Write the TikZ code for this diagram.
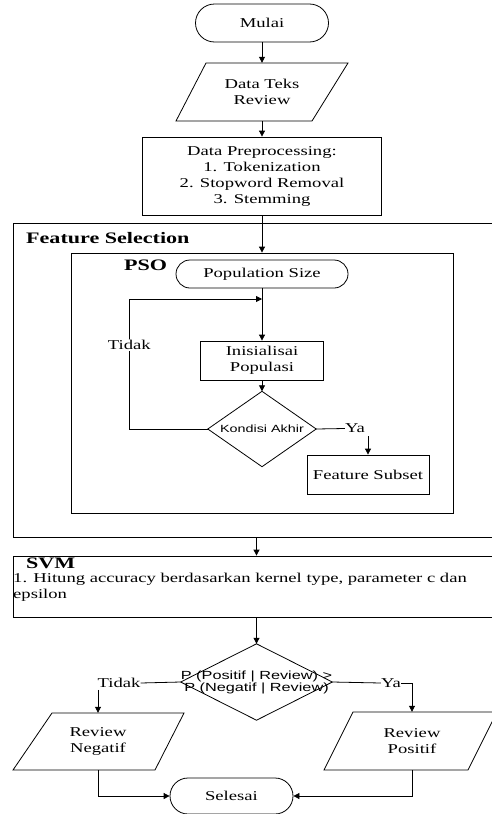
\documentclass[tikz,border=0pt]{standalone}
\usepackage{fontspec}
\setmainfont{Liberation Serif}[FakeStretch=1.38]
\newfontfamily\sansf{Liberation Sans}[FakeStretch=1.38]
\usetikzlibrary{arrows.meta}
\begin{document}
\begin{tikzpicture}[x=1pt,y=-1pt,
  every node/.style={font=\fontsize{13.5}{16}\selectfont, inner sep=0pt},
  ln/.style={draw=black, line width=0.8pt},
  arr/.style={ln, -{Triangle[length=6pt,width=6pt]}},
  term/.style={draw=black, line width=0.8pt},
  procbox/.style={draw=black, line width=0.8pt},
  boldlabel/.style={anchor=base west, font=\bfseries\fontsize{16}{19}\selectfont}
]
\useasboundingbox (0,0) rectangle (492,814);
\clip (0,0) rectangle (492,814);

% start
\node[term, minimum width=133pt, minimum height=38pt, rounded corners=19pt] (mulai) at (262,23) {Mulai};
% data teks
\node[minimum width=172pt, minimum height=58pt, align=center] (data) at (262,92) {Data Teks\\Review};
\draw[ln] (206,63) -- (348,63) -- (312,121) -- (176,121) -- cycle;
% preprocessing
\node[procbox, minimum width=239pt, minimum height=78pt, align=center] (pre) at (262,176) {Data Preprocessing:\\1. Tokenization\\2. Stopword Removal\\3. Stemming};

% feature selection
\node[procbox, minimum width=487pt, minimum height=314pt] (fs) at (256.5,380) {};
\node[boldlabel] (fslabel) at (26,243) {Feature Selection};
\node[procbox, minimum width=382pt, minimum height=260pt] (pso) at (262,383) {};
\node[boldlabel] (psolabel) at (124,270.5) {PSO};
\node[term, minimum width=172pt, minimum height=28pt, rounded corners=14pt] (pop) at (262,274) {Population Size};
\node[procbox, minimum width=123pt, minimum height=39pt, align=center] (init) at (262,360.5) {Inisialisai\\Populasi};
\node[minimum width=108pt, minimum height=75pt, font=\sansf\fontsize{10.4}{12}\selectfont] (kond) at (262,429) {Kondisi Akhir};
\draw[ln] (kond.north) -- (kond.east) -- (kond.south) -- (kond.west) -- cycle;
\node (ya1) at (355,428.5) {Ya};
\node[procbox, minimum width=122pt, minimum height=39pt] (fsub) at (368,474.5) {Feature Subset};
\coordinate (loopin) at (262,299);

\draw[arr] (mulai.south) -- (data.north);
\draw[arr] (data.south) -- (pre.north);
\draw[arr] (pre.south) -- (pso.north);
\draw[arr] (pop.south) -- (init.north);
\draw[arr] (init.south) -- (kond.north);
\draw[arr] (kond.west) -| (129.3,299) -- (loopin);
\node[fill=white, inner sep=1pt] (tidak1) at (129.3,345) {Tidak};
\draw[ln] (kond.east) -- (ya1.west);
\draw[arr] ([yshift=-3pt]ya1.south -| fsub.north) -- (fsub.north);

% SVM
\node[procbox, minimum width=487pt, minimum height=61pt] (svm) at (256.5,586.5) {};
\node[boldlabel] (svmlabel) at (26,568) {SVM};
\node[anchor=base west] (svmt1) at (13,582) {1. Hitung accuracy berdasarkan kernel type, parameter c dan};
\node[anchor=base west] (svmt2) at (13,598.5) {epsilon};
\draw[arr] (fs.south) -- (svm.north);

% decision
\node[minimum width=149pt, minimum height=76pt, align=center, font=\sansf\fontsize{11.8}{9.5}\selectfont] (dec) at (256.5,682) {P (Positif | Review) >\\P (Negatif | Review)};
\draw[ln] (dec.north) -- (dec.east) -- (dec.south) -- (dec.west) -- cycle;
\draw[arr] (svm.south) -- (dec.north);

\node (tidak2) at (119,683) {Tidak};
\draw[ln] (dec.west) -- (tidak2.east);
\node[minimum width=142pt, minimum height=57pt, align=center] (neg) at (98,741.5) {Review\\Negatif};
\draw[ln] (52,713) -- (184,713) -- (155,770) -- (13,770) -- cycle;
\draw[arr] ([yshift=-2pt]tidak2.south -| neg.north) -- (neg.north);

\node (ya2) at (391,683) {Ya};
\draw[ln] (dec.east) -- (ya2.west);
\node[minimum width=142pt, minimum height=58pt, align=center] (pos) at (412,741) {Review\\Positif};
\draw[ln] (353,712) -- (497,712) -- (468,770) -- (324,770) -- cycle;
\draw[arr] (ya2.east) -| (pos.north);

% end
\node[term, minimum width=123pt, minimum height=36pt, rounded corners=18pt] (sel) at (231.5,796) {Selesai};
\draw[arr] (neg.south) |- (sel.west);
\draw[arr] (pos.south) |- (sel.east);
\end{tikzpicture}
\end{document}
